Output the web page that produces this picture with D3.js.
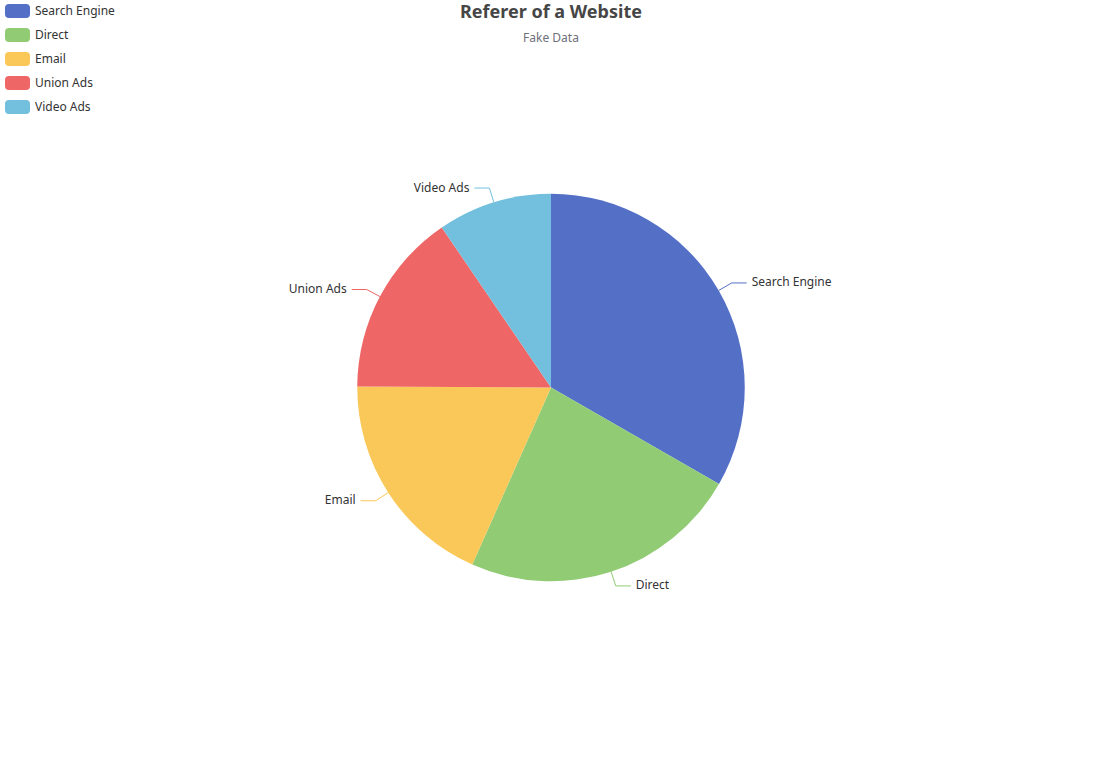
<!DOCTYPE html>
<html>
<head>
<meta charset="utf-8">
<script src="https://cdn.jsdelivr.net/npm/d3@7"></script>
<style>
  body { margin: 0; background: #fff; }
  text { font-family: "Microsoft YaHei", "Noto Sans", sans-serif; }
</style>
</head>
<body>
<script>
  // Chart data
  const categories = ['Search Engine', 'Direct', 'Email', 'Union Ads', 'Video Ads'];
  const values = [1048, 735, 580, 484, 300];
  const colors = ['#5470c6', '#91cc75', '#fac858', '#ee6666', '#73c0de'];

  const width = 1102;
  const height = 775;
  const cx = width / 2;
  const cy = height / 2;
  const radius = Math.min(width, height) / 4;

  const data = categories.map((name, i) => ({ name, value: values[i] }));

  const svg = d3.select('body').append('svg')
    .attr('width', width)
    .attr('height', height);

  // Title
  svg.append('text')
    .attr('x', cx)
    .attr('y', 11)
    .attr('text-anchor', 'middle')
    .attr('dominant-baseline', 'central')
    .attr('font-size', 18)
    .attr('font-weight', 'bold')
    .attr('fill', '#464646')
    .text('Referer of a Website');

  svg.append('text')
    .attr('x', cx)
    .attr('y', 37)
    .attr('text-anchor', 'middle')
    .attr('dominant-baseline', 'central')
    .attr('font-size', 12)
    .attr('fill', '#6E7079')
    .text('Fake Data');

  // Legend
  const legend = svg.append('g').attr('transform', 'translate(5,4)');
  const item = legend.selectAll('g')
    .data(data)
    .join('g')
    .attr('transform', (d, i) => `translate(0,${i * 24})`);

  item.append('rect')
    .attr('width', 25)
    .attr('height', 14)
    .attr('rx', 4)
    .attr('fill', (d, i) => colors[i]);

  item.append('text')
    .attr('x', 30)
    .attr('y', 6)
    .attr('dominant-baseline', 'central')
    .attr('font-size', 12)
    .attr('fill', '#333')
    .text((d) => d.name);

  // Pie
  const pie = d3.pie().sort(null).value((d) => d.value);
  const arc = d3.arc().innerRadius(0).outerRadius(radius);
  const arcs = pie(data);

  const chart = svg.append('g')
    .attr('transform', `translate(${cx},${cy})`);

  chart.selectAll('path.slice')
    .data(arcs)
    .join('path')
    .attr('class', 'slice')
    .attr('d', arc)
    .attr('fill', (d, i) => colors[i]);

  // Label lines: radial segment then horizontal segment
  const len1 = 15;
  const len2 = 15;
  arcs.forEach((d, i) => {
    const a = (d.startAngle + d.endAngle) / 2;
    const sx = Math.sin(a), sy = -Math.cos(a);
    const p1 = [sx * radius, sy * radius];
    const p2 = [sx * (radius + len1), sy * (radius + len1)];
    const right = sx >= 0;
    const p3 = [p2[0] + (right ? len2 : -len2), p2[1]];

    chart.append('polyline')
      .attr('points', [p1, p2, p3].map((p) => p.join(',')).join(' '))
      .attr('fill', 'none')
      .attr('stroke', colors[i])
      .attr('stroke-width', 1);

    chart.append('text')
      .attr('x', p3[0] + (right ? 5 : -5))
      .attr('y', p3[1] - 1)
      .attr('text-anchor', right ? 'start' : 'end')
      .attr('dominant-baseline', 'central')
      .attr('font-size', 12)
      .attr('fill', '#333')
      .text(d.data.name);
  });
</script>
</body>
</html>
